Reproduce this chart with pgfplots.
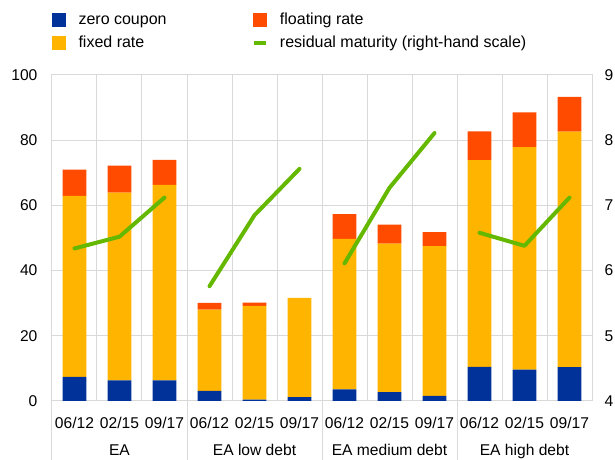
\documentclass[border=0pt]{standalone}
\usepackage{fontspec}
\setmainfont{Liberation Sans}
\usepackage{pgfplots}
\pgfplotsset{compat=1.18}
\usepackage{pgfplotstable}

\definecolor{zc}{HTML}{003299}
\definecolor{fx}{HTML}{FFB400}
\definecolor{fl}{HTML}{FF4B00}
\definecolor{rm}{HTML}{65B800}
\definecolor{gridc}{HTML}{D9D9D9}

% shares of debt by coupon type (left scale)
\pgfplotstableread{
x  zc   fx   fl
0  7.4  55.5 8.1
1  6.3  57.6 8.3
2  6.3  60.0 7.7
3  3.1  24.9 2.1
4  0.4  28.8 1.0
5  1.2  30.4 0.0
6  3.6  46.1 7.6
7  2.7  45.6 5.8
8  1.6  45.9 4.3
9  10.5 63.4 8.8
10 9.6  68.3 10.6
11 10.4 72.2 10.7
}\shares

\pgfplotsset{
  sq/.style={legend image code/.code={\fill[#1] (0pt,-4.75pt) rectangle (9.5pt,4.75pt); \path (17.5pt,0pt);}},
  base/.style={
    at={(0,0)}, anchor=south west,
    scale only axis, width=405pt, height=244.5pt,
    xmin=-0.5, xmax=11.5,
    tick style={draw=none},
    axis line style={gridc, line width=0.75pt},
    ticklabel style={font=\fontsize{11.7}{14}\selectfont},
    /pgf/number format/assume math mode=true,
  },
}

\begin{document}
\begin{tikzpicture}
\useasboundingbox (-39pt,-44.25pt) rectangle (422.25pt,300.75pt);
\begin{axis}[
  base,
  ybar stacked, bar width=0.533,
  ymin=0, ymax=100,
  ytick={0,20,...,100},
  xtick={0,...,11},
  xticklabels={06/12,02/15,09/17,06/12,02/15,09/17,06/12,02/15,09/17,06/12,02/15,09/17},
  minor xtick={0.5,1.5,...,10.5},
  ymajorgrids, xminorgrids,
  grid style={gridc, line width=0.75pt},
  minor grid style={gridc, line width=0.75pt},
  xticklabel style={anchor=base, yshift=-21pt},
  yticklabel style={xshift=-7.4pt},
  clip=false,
  legend columns=2,
  legend cell align=left,
  legend style={at={(0,1)}, anchor=south west, yshift=16.25pt,
    draw=none, fill=none, inner sep=0pt, outer sep=0pt,
    font=\fontsize{12}{14}\selectfont,
    nodes={inner sep=2pt, text height=9pt, text depth=2.5pt},
    row sep=1.75pt,
    /tikz/every even column/.append style={column sep=61.75pt}},
]
\addlegendimage{sq=zc}
\addlegendentry{zero coupon}
\addlegendimage{sq=fl}
\addlegendentry{floating rate}
\addlegendimage{sq=fx}
\addlegendentry{fixed rate}
\addlegendimage{legend image code/.code={\draw[rm, line width=3.2pt] (0pt,0pt) -- (9.5pt,0pt); \path (17.5pt,0pt);}}
\addlegendentry{residual maturity (right-hand scale)}

\addplot[fill=zc, draw=none] table[x=x, y=zc] {\shares};
\addplot[fill=fx, draw=none] table[x=x, y=fx] {\shares};
\addplot[fill=fl, draw=none] table[x=x, y=fl] {\shares};

% group separators and group names
\draw[gridc, line width=0.75pt] (axis cs:-0.5,0) -- (axis cs:-0.5,-18.1);
\draw[gridc, line width=0.75pt] (axis cs:2.5,0) -- (axis cs:2.5,-18.1);
\draw[gridc, line width=0.75pt] (axis cs:5.5,0) -- (axis cs:5.5,-18.1);
\draw[gridc, line width=0.75pt] (axis cs:8.5,0) -- (axis cs:8.5,-18.1);
\node[anchor=base, font=\fontsize{11.7}{14}\selectfont] at (axis cs:1,-16.7) {EA};
\node[anchor=base, font=\fontsize{11.7}{14}\selectfont] at (axis cs:4,-16.7) {EA low debt};
\node[anchor=base, font=\fontsize{11.7}{14}\selectfont] at (axis cs:7,-16.7) {EA medium debt};
\node[anchor=base, font=\fontsize{11.7}{14}\selectfont] at (axis cs:10,-16.7) {EA high debt};
\end{axis}

\begin{axis}[
  base,
  ymin=4, ymax=9,
  ytick={4,...,9},
  axis y line*=right,
  axis x line=none,
  yticklabel style={xshift=5.9pt},
]
\addplot[rm, line width=3pt, line cap=round, line join=round] coordinates {(0,6.34) (1,6.52) (2,7.12)};
\addplot[rm, line width=3pt, line cap=round, line join=round] coordinates {(3,5.76) (4,6.85) (5,7.56)};
\addplot[rm, line width=3pt, line cap=round, line join=round] coordinates {(6,6.11) (7,7.27) (8,8.11)};
\addplot[rm, line width=3pt, line cap=round, line join=round] coordinates {(9,6.58) (10,6.38) (11,7.12)};
\end{axis}
\end{tikzpicture}
\end{document}
